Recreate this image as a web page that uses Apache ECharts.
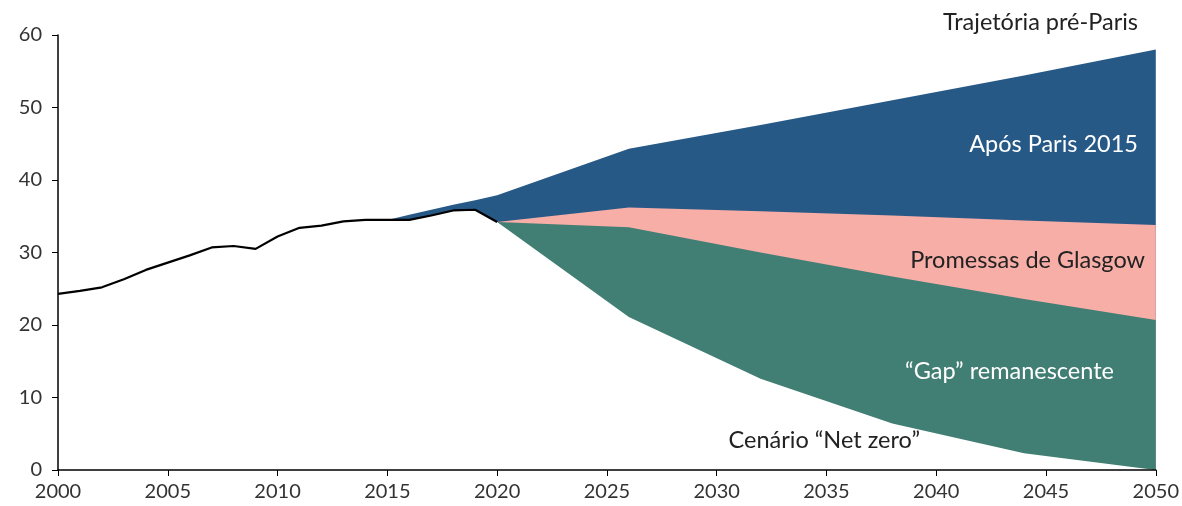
<!DOCTYPE html>
<html>
<head>
<meta charset="utf-8">
<script src="https://cdn.jsdelivr.net/npm/echarts@6/dist/echarts.min.js"></script>
<style>html,body{margin:0;padding:0;background:#fff}#c{width:1182px;height:506px}</style>
</head>
<body>
<div id="c"></div>
<script>
// Historical emissions (2000-2020)
const histYears = [2000,2001,2002,2003,2004,2005,2006,2007,2008,2009,2010,2011,2012,2013,2014,2015,2016,2017,2018,2019,2020];
const histValues = [24.3,24.7,25.2,26.3,27.6,28.6,29.6,30.7,30.9,30.5,32.2,33.4,33.7,34.3,34.5,34.5,34.5,35.1,35.8,35.9,34.2];

// Pre-Paris trajectory before 2020 (top of blue band over the historical line)
const preParisEarlyYears = [2015,2016,2017,2018,2019];
const preParisEarly = [34.5,35.2,35.9,36.6,37.2];

// Projections
const projYears = [2020,2026,2032,2038,2044,2050];
const preParis = [37.9,44.3,47.6,51.0,54.4,58.0];
const afterParis = [34.2,36.2,35.7,35.1,34.4,33.8];
const glasgow = [34.2,33.5,30.0,26.7,23.6,20.7];
const netZero = [34.2,21.1,12.6,6.4,2.3,0.0];

const xTicks = [2000,2005,2010,2015,2020,2025,2030,2035,2040,2045,2050];

const labels = [
  {text:'Trajetória pré-Paris', x:1138, y:22, color:'#222'},
  {text:'Após Paris 2015', x:1138, y:144, color:'#fff'},
  {text:'Promessas de Glasgow', x:1145, y:260, color:'#222'},
  {text:'\u201cGap\u201d remanescente', x:1114, y:371, color:'#fff'},
  {text:'Cenário \u201cNet zero\u201d', x:920, y:440, color:'#222'}
];

const COL_BLUE = '#275986';
const COL_PINK = '#F6AEA7';
const COL_GREEN = '#417E74';

const pairs = (xs, ys) => xs.map((x, i) => [x, ys[i]]);
const histAt = y => histValues[histYears.indexOf(y)];

const blueTop = pairs(preParisEarlyYears, preParisEarly).concat(pairs(projYears, preParis));
const pinkTop = pairs(projYears, afterParis);
const greenTop = pairs(projYears, glasgow);
// white mask below the historical line / net-zero path (starts one year earlier to hide seams)
const whiteTop = [2014].concat(preParisEarlyYears).map(y => [y, histAt(y)]).concat(pairs(projYears, netZero));

const area = (name, data, color, z) => ({
  name, type:'line', data, symbol:'none', silent:true,
  lineStyle:{width:0}, areaStyle:{color, opacity:1}, z
});

const chart = echarts.init(document.getElementById('c'), null, {renderer:'canvas'});
chart.setOption({
  animation:false,
  backgroundColor:'#fff',
  grid:{left:58, right:26, top:35, bottom:36, containLabel:false},
  xAxis:{
    type:'value', min:2000, max:2050, interval:5, z:10,
    axisLine:{show:true, lineStyle:{color:'#000', width:1.5}},
    axisTick:{show:true, length:6, lineStyle:{color:'#000'}},
    splitLine:{show:false},
    axisLabel:{color:'#333', fontSize:20, fontFamily:'Lato', margin:12,
      formatter: v => xTicks.includes(v) ? String(v) : ''}
  },
  yAxis:{
    type:'value', min:0, max:60, interval:10, z:10,
    axisLine:{show:true, lineStyle:{color:'#000', width:1.5}},
    axisTick:{show:true, length:6, lineStyle:{color:'#000'}},
    splitLine:{show:false},
    axisLabel:{color:'#333', fontSize:20, fontFamily:'Lato', margin:16}
  },
  series:[
    area('Após Paris 2015', blueTop, COL_BLUE, 2),
    area('Promessas de Glasgow', pinkTop, COL_PINK, 3),
    area('Gap remanescente', greenTop, COL_GREEN, 4),
    area('Cenário Net zero', whiteTop, '#ffffff', 5),
    {
      name:'Histórico', type:'line', symbol:'none', silent:true,
      data: pairs(histYears, histValues),
      lineStyle:{color:'#000', width:2.2}, z:6
    }
  ],
  graphic: labels.map(l => ({
    type:'text', x: l.x, y: l.y, z:20,
    style:{text:l.text, fill:l.color, fontSize:23.5, fontFamily:'Lato', align:'right', verticalAlign:'middle'}
  }))
});
</script>
</body>
</html>
